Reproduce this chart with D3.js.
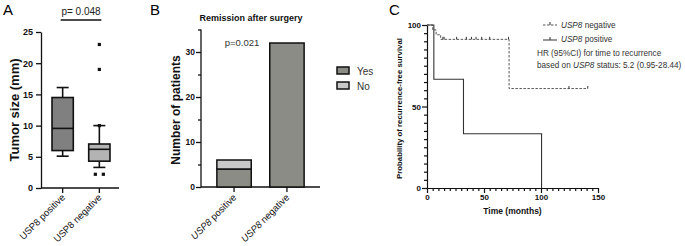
<!DOCTYPE html>
<html>
<head>
<meta charset="utf-8">
<script src="https://cdn.jsdelivr.net/npm/d3@7"></script>
<style>
  body { margin: 0; background: #fff; }
  text { font-family: Arial, "Liberation Sans", sans-serif; }
</style>
</head>
<body>
<svg id="drawing_region"></svg>
<script>
// ---- Panel A data (tumor size, mm) ----
const boxGroups = ["positive", "negative"];
const boxStats = [
    { q1: 6.0, median: 9.55, q3: 14.5, lo: 5.1, hi: 16.1 },
    { q1: 4.3, median: 6.2, q3: 7.05, lo: 3.3, hi: 10.0 }
];
const boxOutliers = [[], [23, 19, 10, 2.2, 2.2]];
const boxTicks = [0, 5, 10, 15, 20, 25];

// ---- Panel B data (remission after surgery) ----
const barGroups = ["positive", "negative"];
const remissionYes = [4, 32];
const remissionNo = [2, 0];
const barTicks = [0, 10, 20, 30];

// ---- Panel C data (Kaplan-Meier) ----
const kmNegative = [[0, 100], [5, 100], [5, 97], [8, 97], [8, 94], [12, 94], [12, 91.2], [72, 91.2], [72, 61], [141, 61]];
const kmNegativeCensor = [[14, 91.2], [15, 91.2], [26, 91.2], [34.5, 91.2], [39, 91.2], [43, 91.2], [48, 91.2], [55, 91.2], [71.5, 91.2], [124.5, 61], [141, 61]];
const kmPositive = [[0, 100], [6, 100], [6, 66.7], [32, 66.7], [32, 33.3], [100.5, 33.3], [100.5, 0]];
const kmTicks = [0, 50, 100, 150];
const kmYTicks = [0, 50, 100];

const svg = d3.select('#drawing_region').attr('width', 685).attr('height', 246);

function groupLabel(g, x, y, name, italic) {
    const t = g.append('text')
        .attr('transform', `translate(${x},${y}) rotate(-45)`)
        .attr('text-anchor', 'end')
        .attr('font-size', '9.5px')
        .attr('fill', '#111');
    t.append('tspan').attr('font-style', italic ? 'italic' : 'normal').text('USP8');
    t.append('tspan').text(' ' + name);
}

// ================= Panel A =================
{
    const g = svg.append('g');
    const y = d3.scaleLinear().domain([0, 25]).range([188, 32]);
    const x = d3.scaleBand().domain(boxGroups).range([41, 121]).paddingInner(0.42).paddingOuter(0.3);
    const fills = ['#808080', '#b3b3b3'];

    g.append('text').attr('x', 3).attr('y', 15).attr('font-size', '15px').text('A');

    const yAxis = g.append('g').attr('transform', 'translate(41,0)')
        .call(d3.axisLeft(y).tickValues(boxTicks).tickSize(5).tickSizeOuter(0));
    yAxis.selectAll('text').attr('font-size', '9px').attr('font-weight', 'bold').attr('fill', '#111');
    yAxis.selectAll('path,line').attr('stroke', '#111').attr('stroke-width', 1.3);

    const xAxis = g.append('g').attr('transform', 'translate(0,188)')
        .call(d3.axisBottom(x).tickSize(5).tickSizeOuter(0).tickFormat(''));
    xAxis.select('path').attr('d', 'M41,0H119');
    xAxis.selectAll('path,line').attr('stroke', '#111').attr('stroke-width', 1.3);

    boxGroups.forEach((k, i) => {
        const s = boxStats[i];
        const x0 = x(k), bw = x.bandwidth(), cx = x0 + bw / 2;
        const gg = g.append('g').attr('stroke', '#111').attr('stroke-width', 1.6);
        gg.append('line').attr('x1', cx).attr('x2', cx).attr('y1', y(s.hi)).attr('y2', y(s.q3));
        gg.append('line').attr('x1', cx).attr('x2', cx).attr('y1', y(s.q1)).attr('y2', y(s.lo));
        gg.append('line').attr('x1', cx - 6).attr('x2', cx + 6).attr('y1', y(s.hi)).attr('y2', y(s.hi));
        gg.append('line').attr('x1', cx - 6).attr('x2', cx + 6).attr('y1', y(s.lo)).attr('y2', y(s.lo));
        gg.append('rect').attr('x', x0).attr('width', bw)
            .attr('y', y(s.q3)).attr('height', y(s.q1) - y(s.q3)).attr('fill', fills[i]);
        gg.append('line').attr('x1', x0).attr('x2', x0 + bw).attr('y1', y(s.median)).attr('y2', y(s.median));

        const outs = boxOutliers[i];
        outs.forEach((v, j) => {
            let dx = 0;
            if (outs.filter(o => o === v).length > 1) dx = outs.indexOf(v) === j ? -4 : 4;
            g.append('rect').attr('x', cx + dx - 1.6).attr('y', y(v) - 1.6)
                .attr('width', 3.2).attr('height', 3.2).attr('fill', '#111');
        });

        groupLabel(g, cx + 3, 198, k, false);
    });

    // significance bar
    const c0 = x(boxGroups[0]) + x.bandwidth() / 2, c1 = x(boxGroups[1]) + x.bandwidth() / 2;
    g.append('line').attr('x1', c0 - 2).attr('x2', c1 + 2).attr('y1', 20).attr('y2', 20)
        .attr('stroke', '#111').attr('stroke-width', 1.6);
    g.append('text').attr('x', (c0 + c1) / 2).attr('y', 15).attr('text-anchor', 'middle')
        .attr('font-size', '10px').attr('fill', '#222').text('p= 0.048');

    g.append('text').attr('transform', 'translate(19,110) rotate(-90)').attr('text-anchor', 'middle')
        .attr('font-size', '13px').attr('font-weight', 'bold').attr('fill', '#111').text('Tumor size (mm)');
}

// ================= Panel B =================
{
    const g = svg.append('g');
    const y = d3.scaleLinear().domain([0, 35]).range([187, 29.5]);
    const x = d3.scaleBand().domain(barGroups).range([201, 320]).paddingInner(0.35).paddingOuter(0.3);

    g.append('text').attr('x', 150).attr('y', 15).attr('font-size', '15px').text('B');
    g.append('text').attr('x', 251).attr('y', 21).attr('text-anchor', 'middle')
        .attr('font-size', '9px').attr('font-weight', 'bold').attr('fill', '#111').text('Remission after surgery');

    const yAxis = g.append('g').attr('transform', 'translate(201,0)')
        .call(d3.axisLeft(y).tickValues(d3.range(0, 36, 5)).tickSize(3).tickSizeOuter(0)
            .tickFormat(d => barTicks.includes(d) ? d : ''));
    yAxis.selectAll('.tick line').attr('x2', d => barTicks.includes(d) ? -5 : -3);
    yAxis.selectAll('text').attr('font-size', '8.5px').attr('font-weight', 'bold').attr('fill', '#111');
    yAxis.selectAll('path,line').attr('stroke', '#111').attr('stroke-width', 1.3);
    yAxis.select('path').attr('d', 'M0,29.5V187');

    const xAxis = g.append('g').attr('transform', 'translate(0,187)')
        .call(d3.axisBottom(x).tickSize(5).tickSizeOuter(0).tickFormat(''));
    xAxis.select('path').attr('d', 'M201,0H320');
    xAxis.selectAll('path,line').attr('stroke', '#111').attr('stroke-width', 1.3);

    barGroups.forEach((k, i) => {
        const yes = remissionYes[i], no = remissionNo[i];
        g.append('rect').attr('x', x(k)).attr('width', x.bandwidth())
            .attr('y', y(yes)).attr('height', y(0) - y(yes))
            .attr('fill', '#8c8c86').attr('stroke', '#111').attr('stroke-width', 1.5);
        if (no > 0) {
            g.append('rect').attr('x', x(k)).attr('width', x.bandwidth())
                .attr('y', y(yes + no)).attr('height', y(yes) - y(yes + no))
                .attr('fill', '#c9c9c9').attr('stroke', '#111').attr('stroke-width', 1.5);
        }
        groupLabel(g, x(k) + x.bandwidth() / 2 + 3, 198, k, true);
    });

    g.append('text').attr('x', 242).attr('y', 46).attr('text-anchor', 'middle')
        .attr('font-size', '9.5px').attr('fill', '#333').text('p=0.021');

    g.append('text').attr('transform', 'translate(180,110) rotate(-90)').attr('text-anchor', 'middle')
        .attr('font-size', '12px').attr('font-weight', 'bold').attr('fill', '#111').text('Number of patients');

    // legend
    const legend = [['Yes', '#8c8c86'], ['No', '#c9c9c9']];
    legend.forEach((d, i) => {
        g.append('rect').attr('x', 337).attr('y', 67 + i * 15).attr('width', 12).attr('height', 7)
            .attr('fill', d[1]).attr('stroke', '#111').attr('stroke-width', 1.5);
        g.append('text').attr('x', 357).attr('y', 75 + i * 15).attr('font-size', '10px')
            .attr('fill', '#333').text(d[0]);
    });
}

// ================= Panel C =================
{
    const g = svg.append('g');
    const x = d3.scaleLinear().domain([0, 150]).range([427, 598]);
    const y = d3.scaleLinear().domain([0, 100]).range([188, 25]);

    g.append('text').attr('x', 389).attr('y', 15).attr('font-size', '15px').text('C');

    const yAxis = g.append('g').attr('transform', 'translate(427,0)')
        .call(d3.axisLeft(y).tickValues(d3.range(0, 101, 5)).tickSize(3).tickSizeOuter(0)
            .tickFormat(d => kmYTicks.includes(d) ? d : ''));
    yAxis.selectAll('.tick line').attr('x2', d => kmYTicks.includes(d) ? -5 : -3);
    yAxis.selectAll('text').attr('font-size', '8px').attr('font-weight', 'bold').attr('fill', '#111');
    yAxis.selectAll('path,line').attr('stroke', '#111').attr('stroke-width', 1.2);

    const xAxis = g.append('g').attr('transform', 'translate(0,188)')
        .call(d3.axisBottom(x).tickValues(d3.range(0, 151, 5)).tickSize(3).tickSizeOuter(0)
            .tickFormat(d => kmTicks.includes(d) ? d : ''));
    xAxis.selectAll('.tick line').attr('y2', d => kmTicks.includes(d) ? 5 : 3);
    xAxis.selectAll('text').attr('font-size', '8px').attr('font-weight', 'bold').attr('fill', '#111');
    xAxis.selectAll('path,line').attr('stroke', '#111').attr('stroke-width', 1.2);

    const line = d3.line().x(d => x(d[0])).y(d => y(d[1]));
    g.append('path').datum(kmNegative).attr('d', line).attr('fill', 'none')
        .attr('stroke', '#555').attr('stroke-width', 1).attr('stroke-dasharray', '2.5,1.5');
    g.append('path').datum(kmPositive).attr('d', line).attr('fill', 'none')
        .attr('stroke', '#333').attr('stroke-width', 1.1);
    g.selectAll('.censor').data(kmNegativeCensor).enter().append('line')
        .attr('x1', d => x(d[0])).attr('x2', d => x(d[0]))
        .attr('y1', d => y(d[1]) - 2.5).attr('y2', d => y(d[1]))
        .attr('stroke', '#333').attr('stroke-width', 1);

    g.append('text').attr('x', x(75)).attr('y', 214).attr('text-anchor', 'middle')
        .attr('font-size', '8.5px').attr('font-weight', 'bold').attr('fill', '#111').text('Time (months)');
    g.append('text').attr('transform', `translate(402,${y(50) + 2}) rotate(-90)`).attr('text-anchor', 'middle')
        .attr('font-size', '7.8px').attr('font-weight', 'bold').attr('fill', '#111')
        .text('Probability of recurrence-free survival');

    // legend
    const lg = g.append('g').attr('font-size', '8.2px').attr('fill', '#333');
    lg.append('line').attr('x1', 543).attr('x2', 557).attr('y1', 25).attr('y2', 25)
        .attr('stroke', '#555').attr('stroke-dasharray', '2.5,1.5');
    lg.append('line').attr('x1', 550).attr('x2', 550).attr('y1', 22).attr('y2', 25).attr('stroke', '#333');
    lg.append('line').attr('x1', 543).attr('x2', 557).attr('y1', 40).attr('y2', 40).attr('stroke', '#333');
    lg.append('line').attr('x1', 550).attr('x2', 550).attr('y1', 37).attr('y2', 40).attr('stroke', '#333');

    const t1 = lg.append('text').attr('x', 561).attr('y', 28);
    t1.append('tspan').attr('font-style', 'italic').text('USP8');
    t1.append('tspan').text(' negative');
    const t2 = lg.append('text').attr('x', 561).attr('y', 42);
    t2.append('tspan').attr('font-style', 'italic').text('USP8');
    t2.append('tspan').text(' positive');
    lg.append('text').attr('x', 537).attr('y', 56).text('HR (95%CI) for time to recurrence');
    const t3 = lg.append('text').attr('x', 537).attr('y', 68);
    t3.append('tspan').text('based on ');
    t3.append('tspan').attr('font-style', 'italic').text('USP8');
    t3.append('tspan').text(' status: 5.2 (0.95-28.44)');
}
</script>
</body>
</html>
